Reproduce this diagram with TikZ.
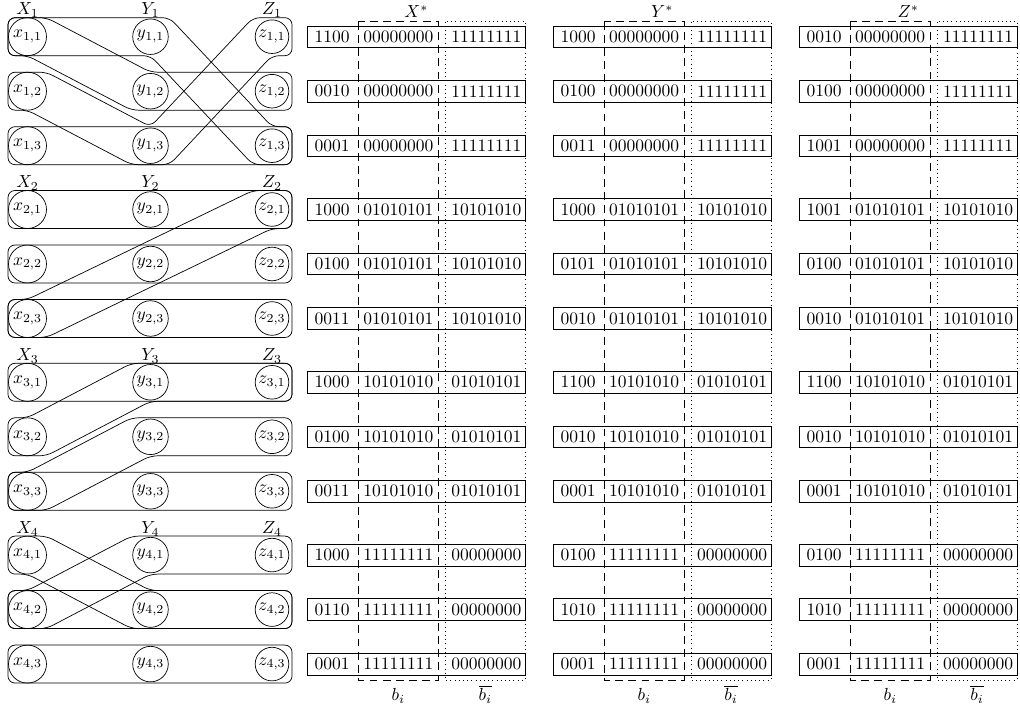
\documentclass[tikz,border=0pt]{standalone}
\usetikzlibrary{calc}
\newcommand\drawtable[4]{%
  % #1 name, #2 left x, #3 label, #4 codes
  \node (#1lab) at (#2+108.75,11.5) {$#3$};
  \foreach \c [count=\i] in {#4} {
    \pgfmathtruncatemacro\g{(\i-1)/3}
    \pgfmathtruncatemacro\k{mod(\i-1,3)}
    \pgfmathsetmacro\yy{36.7+\g*172.8+\k*54.5}
    \ifcase\g \def\ba{00000000}\def\bb{11111111}\or
      \def\ba{01010101}\def\bb{10101010}\or
      \def\ba{10101010}\def\bb{01010101}\or
      \def\ba{11111111}\def\bb{00000000}\fi
    \draw[rowbox] (#2,\yy-10.8) rectangle (#2+217.5,\yy+10.8);
    \node[bits] (#1c\i) at (#2+24.5,\yy) {\c};
    \node[bits] (#1a\i) at (#2+90.7,\yy) {\ba};
    \node[bits] (#1b\i) at (#2+178.6,\yy) {\bb};
  }
  \draw[bbox] (#2+50.7,21.7) rectangle (#2+130.7,680);
  \draw[nbox] (#2+137.4,21.7) rectangle (#2+217.5,680);
  \node[anchor=base] (#1bi) at (#2+90.7,701) {$b_i$};
  \node[anchor=base] (#1nb) at (#2+177.5,701) {$\overline{b_i}$};
}
\begin{document}
\begin{tikzpicture}[x=0.5714pt,y=-0.5714pt,
  vtx/.style={draw,circle,inner sep=0pt},
  xv/.style={vtx,minimum size=21.7pt},
  yv/.style={vtx,minimum size=20.3pt},
  zv/.style={vtx,minimum size=19.2pt},
  hedge/.style={draw,rounded corners=4pt},
  rowbox/.style={draw},
  bits/.style={inner sep=0pt},
  bbox/.style={draw,dash pattern=on 4.5pt off 3pt},
  nbox/.style={draw,dotted},
  grp/.style={anchor=base,inner sep=0pt},
]
\useasboundingbox (0,0) rectangle (1020,711);

% vertices
\foreach \g in {1,...,4}{
  \foreach \k in {1,2,3}{
    \pgfmathsetmacro\yy{36.7+(\g-1)*172.8+(\k-1)*54.5}
    \node[xv] (x\g\k) at (27.5,\yy) {$x_{\g,\k}$};
    \node[yv] (y\g\k) at (150.5,\yy) {$y_{\g,\k}$};
    \node[zv] (z\g\k) at (272,\yy) {$z_{\g,\k}$};
  }
  \pgfmathsetmacro\yl{36.7+(\g-1)*172.8-21.7}
  \node[grp] (X\g) at (27.5,\yl) {$X_\g$};
  \node[grp] (Y\g) at (150.5,\yl) {$Y_\g$};
  \node[grp] (Z\g) at (272,\yl) {$Z_\g$};
}

% group 1
\draw[hedge] ($(x11)+(-19.5,-19)$) -- ($(y11)+(19,-19)$) -- ($(z13)+(0,-19)$) -- ($(z13)+(20,-19)$) -- ($(z13)+(20,19)$) -- ($(z13)+(-19,19)$) -- ($(y11)+(0,19)$) -- ($(x11)+(-19.5,19)$) -- cycle;
\draw[hedge] ($(x11)+(-19.5,-19)$) -- ($(x11)+(19,-19)$) -- ($(y12)+(0,-19)$) -- ($(z12)+(20,-19)$) -- ($(z12)+(20,19)$) -- ($(y12)+(-19,19)$) -- ($(x11)+(0,19)$) -- ($(x11)+(-19.5,19)$) -- cycle;
\draw[hedge] ($(x12)+(-19.5,-19)$) -- ($(x12)+(19,-19)$) -- ($(y13)+(0,-19)$) -- ($(z11)+(-19,-19)$) -- ($(z11)+(20,-19)$) -- ($(z11)+(20,19)$) -- ($(z11)+(0,19)$) -- ($(y13)+(19,19)$) -- ($(y13)+(-19,19)$) -- ($(x12)+(0,19)$) -- ($(x12)+(-19.5,19)$) -- cycle;
\draw[hedge] ($(x13)+(-19.5,-19)$) rectangle ($(z13)+(20,19)$);

% group 2
\draw[hedge] ($(x21)+(-19.5,-19)$) rectangle ($(z21)+(20,19)$);
\draw[hedge] ($(x22)+(-19.5,-19)$) rectangle ($(z22)+(20,19)$);
\draw[hedge] ($(x23)+(-19.5,-19)$) rectangle ($(z23)+(20,19)$);
\draw[hedge] ($(x23)+(-19.5,-19)$) -- ($(x23)+(0,-19)$) -- ($(z21)+(-19,-19)$) -- ($(z21)+(20,-19)$) -- ($(z21)+(20,19)$) -- ($(z21)+(0,19)$) -- ($(x23)+(19,19)$) -- ($(x23)+(-19.5,19)$) -- cycle;

% group 3
\draw[hedge] ($(x31)+(-19.5,-19)$) rectangle ($(z31)+(20,19)$);
\draw[hedge] ($(x32)+(-19.5,-19)$) -- ($(x32)+(0,-19)$) -- ($(y31)+(-19,-19)$) -- ($(z31)+(20,-19)$) -- ($(z31)+(20,19)$) -- ($(y31)+(0,19)$) -- ($(x32)+(19,19)$) -- ($(x32)+(-19.5,19)$) -- cycle;
\draw[hedge] ($(x33)+(-19.5,-19)$) -- ($(x33)+(0,-19)$) -- ($(y32)+(-19,-19)$) -- ($(z32)+(20,-19)$) -- ($(z32)+(20,19)$) -- ($(y32)+(0,19)$) -- ($(x33)+(19,19)$) -- ($(x33)+(-19.5,19)$) -- cycle;
\draw[hedge] ($(x33)+(-19.5,-19)$) rectangle ($(z33)+(20,19)$);

% group 4
\draw[hedge] ($(x41)+(-19.5,-19)$) -- ($(x41)+(19,-19)$) -- ($(y42)+(0,-19)$) -- ($(z42)+(20,-19)$) -- ($(z42)+(20,19)$) -- ($(y42)+(-19,19)$) -- ($(x41)+(0,19)$) -- ($(x41)+(-19.5,19)$) -- cycle;
\draw[hedge] ($(x42)+(-19.5,-19)$) -- ($(x42)+(0,-19)$) -- ($(y41)+(-19,-19)$) -- ($(z41)+(20,-19)$) -- ($(z41)+(20,19)$) -- ($(y41)+(0,19)$) -- ($(x42)+(19,19)$) -- ($(x42)+(-19.5,19)$) -- cycle;
\draw[hedge] ($(x42)+(-19.5,-19)$) rectangle ($(z42)+(20,19)$);
\draw[hedge] ($(x43)+(-19.5,-19)$) rectangle ($(z43)+(20,19)$);

% tables
\drawtable{X}{307.7}{X^*}{1100,0010,0001,1000,0100,0011,1000,0100,0011,1000,0110,0001}
\drawtable{Y}{553.5}{Y^*}{1000,0100,0011,1000,0101,0010,1100,0010,0001,0100,1010,0001}
\drawtable{Z}{799.5}{Z^*}{0010,0100,1001,1001,0100,0010,1100,0010,0001,0100,1010,0001}
\end{tikzpicture}
\end{document}
